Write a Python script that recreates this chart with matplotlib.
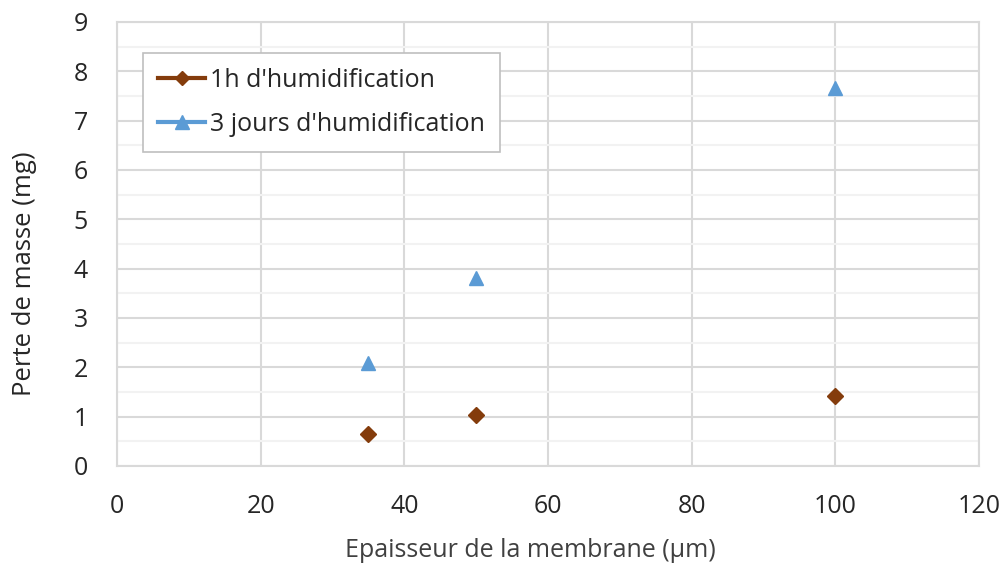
import matplotlib
matplotlib.use("Agg")
import matplotlib.pyplot as plt
from matplotlib.ticker import MultipleLocator
from matplotlib.lines import Line2D

plt.rcParams['font.family'] = ['Open Sans', 'DejaVu Sans']

thickness = [35, 50, 100]
loss_1h = [0.65, 1.03, 1.41]
loss_3j = [2.08, 3.81, 7.66]
label_1h = "1h d'humidification"
label_3j = "3 jours d'humidification"

fig = plt.figure(figsize=(10.03, 5.66), dpi=100)
ax = fig.add_axes([0.1167, 0.1767, 0.8595, 0.7845])

ax.plot(thickness, loss_1h, linestyle='none', marker='D', markersize=8,
        color='#843c0c', label=label_1h)
ax.plot(thickness, loss_3j, linestyle='none', marker='^', markersize=10.5,
        color='#5b9bd5', label=label_3j)

ax.set_xlim(0, 120)
ax.set_ylim(0, 9)
ax.xaxis.set_major_locator(MultipleLocator(20))
ax.yaxis.set_major_locator(MultipleLocator(1))
ax.yaxis.set_minor_locator(MultipleLocator(0.5))
ax.grid(which='major', color='#d9d9d9', linewidth=1.5)
ax.grid(which='minor', axis='y', color='#f2f2f2', linewidth=1.5)
ax.set_axisbelow(True)
for s in ax.spines.values():
    s.set_color('#d9d9d9')
    s.set_linewidth(1.5)
ax.tick_params(which='both', length=0, labelsize=18, labelcolor='#262626')
ax.tick_params(axis='x', pad=20)
ax.tick_params(axis='y', pad=21)

ax.set_xlabel('Epaisseur de la membrane (µm)', fontsize=18, color='#404040', labelpad=14)
ax.set_ylabel('Perte de masse (mg)', fontsize=18.5, color='#262626', labelpad=26)
ax.xaxis.label.set_x(0.479)
ax.yaxis.label.set_y(0.432)

handles = [Line2D([], [], color='#843c0c', lw=3, marker='D', markersize=7.5),
           Line2D([], [], color='#5b9bd5', lw=3, marker='^', markersize=10)]
leg = ax.legend(handles, [label_1h, label_3j], loc='upper left',
                bbox_to_anchor=(0.030, 0.930), fontsize=18, frameon=True,
                fancybox=False, edgecolor='#bfbfbf', framealpha=1,
                handlelength=1.9, handletextpad=0.2, borderpad=0.6,
                labelspacing=0.75, borderaxespad=0)
leg.get_frame().set_linewidth(1.2)
for t in leg.get_texts():
    t.set_color('#262626')

fig.savefig('out.png', dpi=100)
